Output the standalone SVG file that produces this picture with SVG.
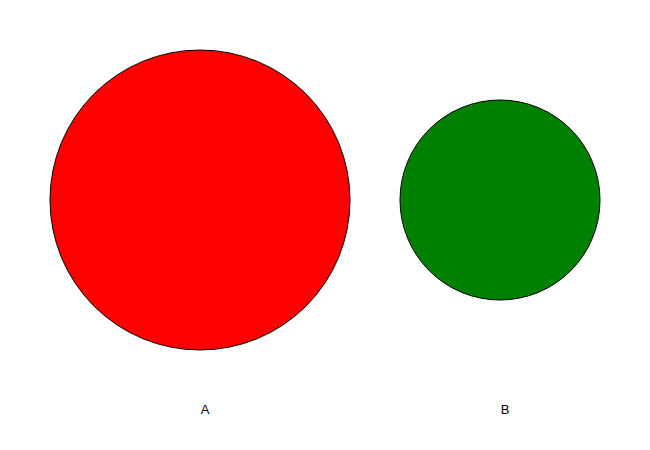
<svg xmlns="http://www.w3.org/2000/svg" width="650" height="450" viewBox="0 0 650 450">
<style>
.c{stroke:#000;stroke-width:1}
.t{font-family:"Liberation Sans",Arial,sans-serif;font-size:13px;text-anchor:middle;fill:#000}
</style>
<rect width="650" height="450" fill="#fff"/>
<g id="nodeA">
<circle class="c" cx="200" cy="200" r="150" fill="#ff0000"/>
<text class="t" x="205" y="414">A</text>
</g>
<g id="nodeB">
<circle class="c" cx="500" cy="200" r="100" fill="#008000"/>
<text class="t" x="505" y="414">B</text>
</g>
<g id="connectors"></g>
</svg>
